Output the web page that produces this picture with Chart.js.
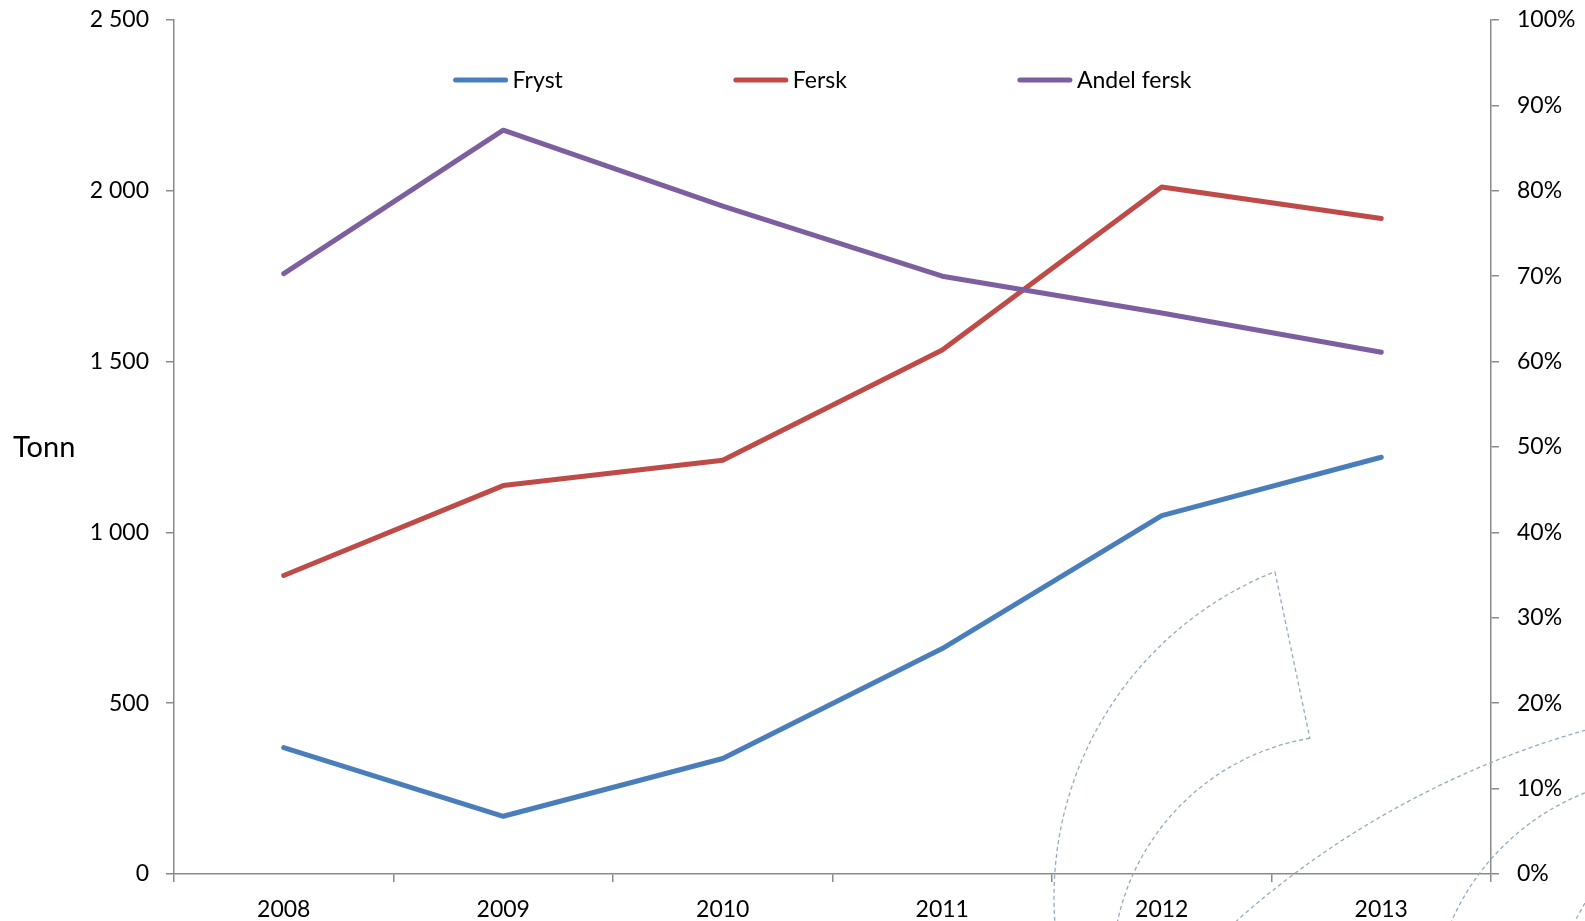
<!DOCTYPE html>
<html lang="no">
<head>
<meta charset="utf-8">
<title>Fryst og fersk</title>
<script src="https://cdn.jsdelivr.net/npm/chart.js@4.4.1/dist/chart.umd.min.js"></script>
<style>
  html, body { margin: 0; padding: 0; background: #fff; overflow: hidden; }
  #chart { display: block; }
</style>
</head>
<body>
<canvas id="chart" width="1585" height="921"></canvas>
<script>
// ── Data ─────────────────────────────────────────────
const years       = ['2008', '2009', '2010', '2011', '2012', '2013'];
const fryst       = [370, 169, 338, 660, 1049, 1220];
const fersk       = [874, 1137, 1211, 1534, 2011, 1919];
const andelFersk  = [70.3, 87.1, 78.2, 70.0, 65.7, 61.1];   // %
const tonnTicks   = [0, 500, 1000, 1500, 2000, 2500];
const pctTicks    = [0, 10, 20, 30, 40, 50, 60, 70, 80, 90, 100];

// ── Shared style ─────────────────────────────────────
const FONT      = "Lato, 'Noto Sans', sans-serif";
const AXIS_GREY = '#8a8a8a';
const TICK_FONT = { family: FONT, size: 23 };

Chart.defaults.font.family = FONT;
Chart.defaults.color = '#000';

function spaced(v) {
    return String(v).replace(/\B(?=(\d{3})+(?!\d))/g, ' ');
}

// legend drawn inside the plot area, centred, Excel style
const insideLegend = {
    id: 'insideLegend',
    afterDatasetsDraw(chart) {
        const { ctx, chartArea } = chart;
        const lineLen = 54, textGap = 5, itemGap = 171, y = chartArea.top + 60;
        ctx.save();
        ctx.font = '23px ' + FONT;
        const items = chart.data.datasets.map(ds => ({
            ds, w: lineLen + textGap + ctx.measureText(ds.label).width
        }));
        const total = items.reduce((s, it) => s + it.w, 0) + itemGap * (items.length - 1);
        let x = (chartArea.left + chartArea.right) / 2 - total / 2 - 10;
        items.forEach(it => {
            ctx.strokeStyle = it.ds.borderColor;
            ctx.lineWidth = 5;
            ctx.lineCap = 'round';
            ctx.beginPath();
            ctx.moveTo(x + 2, y);
            ctx.lineTo(x + lineLen - 2, y);
            ctx.stroke();
            ctx.fillStyle = '#000';
            ctx.textBaseline = 'middle';
            ctx.fillText(it.ds.label, x + lineLen + textGap, y + 1);
            x += it.w + itemGap;
        });
        ctx.restore();
    }
};

// horizontal "Tonn" title left of the y axis
const yTitle = {
    id: 'yTitle',
    afterDraw(chart) {
        const { ctx, chartArea } = chart;
        ctx.save();
        ctx.font = '29px ' + FONT;
        ctx.fillStyle = '#000';
        ctx.textBaseline = 'middle';
        ctx.fillText('Tonn', 13, (chartArea.top + chartArea.bottom) / 2 + 1);
        ctx.restore();
    }
};

// faint dashed watermark (partial logo) in the lower right corner
const watermark = {
    id: 'watermark',
    beforeDatasetsDraw(chart) {
        const ctx = chart.ctx;
        const rad = d => d * Math.PI / 180;
        // [cx, cy, r, startDeg, endDeg, anticlockwise]
        const arcs = [
            [1404, 897, 350, 176.1, 248.4, false],
            [1349, 972, 237, 260.5, 192.4, true],
            [1826, 1585, 888, 254.3, 228.4, true],
            [1674, 1019, 243, 248.5, 203.8, true]
        ];
        ctx.save();
        ctx.strokeStyle = '#93abbd';
        ctx.lineWidth = 1.3;
        ctx.setLineDash([4, 3]);
        arcs.forEach(a => {
            ctx.beginPath();
            ctx.arc(a[0], a[1], a[2], rad(a[3]), rad(a[4]), a[5]);
            ctx.stroke();
        });
        ctx.beginPath();
        ctx.moveTo(1275, 572);
        ctx.lineTo(1310, 739);
        ctx.moveTo(1585, 903);
        ctx.lineTo(1575, 921);
        ctx.stroke();
        ctx.restore();
    }
};

function lineSet(label, data, color, axis, order) {
    return {
        label, data, yAxisID: axis, order,
        borderColor: color,
        backgroundColor: color,
        borderWidth: 5,
        borderCapStyle: 'round',
        borderJoinStyle: 'round',
        pointRadius: 0,
        pointHoverRadius: 0,
        tension: 0,
        fill: false
    };
}

function fixVertical(width) {
    return scale => {
        scale.width = width;
        scale.paddingTop = 0;
        scale.paddingBottom = 0;
    };
}

new Chart(document.getElementById('chart'), {
    type: 'line',
    data: {
        labels: years,
        datasets: [
            lineSet('Fryst', fryst, '#4a7ebb', 'y', 2),
            lineSet('Fersk', fersk, '#be4b48', 'y', 1),
            lineSet('Andel fersk', andelFersk, '#7d5fa0', 'y2', 0)
        ]
    },
    options: {
        responsive: false,
        animation: false,
        layout: { padding: { top: 20, right: 0, bottom: 0, left: 0 } },
        plugins: {
            legend: { display: false },
            tooltip: { enabled: false }
        },
        scales: {
            x: {
                offset: true,
                grid: {
                    offset: true,
                    drawOnChartArea: false,
                    drawTicks: true,
                    tickLength: 8,
                    color: AXIS_GREY,
                    lineWidth: 1.5
                },
                border: { color: AXIS_GREY, width: 1.5 },
                ticks: { font: TICK_FONT, color: '#000', padding: 14, maxRotation: 0 },
                afterFit(scale) {
                    scale.height = 47;
                    scale.paddingLeft = 0;
                    scale.paddingRight = 0;
                }
            },
            y: {
                position: 'left',
                min: tonnTicks[0],
                max: tonnTicks[tonnTicks.length - 1],
                afterBuildTicks(scale) { scale.ticks = tonnTicks.map(v => ({ value: v })); },
                grid: {
                    drawOnChartArea: false,
                    drawTicks: true,
                    tickLength: 8,
                    color: AXIS_GREY,
                    lineWidth: 1.5
                },
                border: { color: AXIS_GREY, width: 1.5 },
                ticks: { font: TICK_FONT, color: '#000', padding: 17, callback: v => spaced(v) },
                afterFit: fixVertical(174)
            },
            y2: {
                position: 'right',
                min: pctTicks[0],
                max: pctTicks[pctTicks.length - 1],
                afterBuildTicks(scale) { scale.ticks = pctTicks.map(v => ({ value: v })); },
                grid: {
                    drawOnChartArea: false,
                    drawTicks: true,
                    tickLength: 8,
                    color: AXIS_GREY,
                    lineWidth: 1.5
                },
                border: { color: AXIS_GREY, width: 1.5 },
                ticks: { font: TICK_FONT, color: '#000', padding: 18, callback: v => v + '%' },
                afterFit: fixVertical(94)
            }
        }
    },
    plugins: [watermark, insideLegend, yTitle]
});
</script>
</body>
</html>
